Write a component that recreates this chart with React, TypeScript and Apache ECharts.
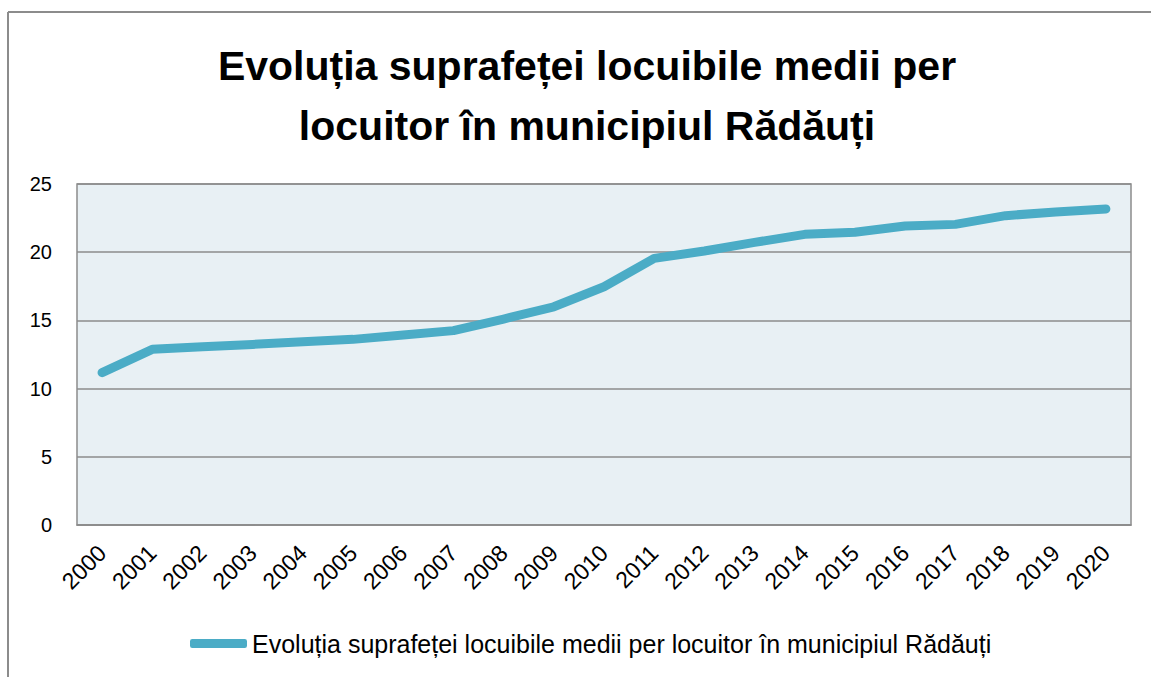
import React, { useEffect, useRef } from "react";
import * as echarts from "echarts";

const years = [
  "2000", "2001", "2002", "2003", "2004", "2005", "2006", "2007", "2008", "2009", "2010",
  "2011", "2012", "2013", "2014", "2015", "2016", "2017", "2018", "2019", "2020",
];
const values = [
  11.17, 12.88, 13.06, 13.24, 13.43, 13.61, 13.93, 14.25, 15.1, 16.0, 17.47,
  19.55, 20.09, 20.72, 21.31, 21.46, 21.92, 22.04, 22.68, 22.95, 23.17,
];
const seriesName = "Evoluția suprafeței locuibile medii per locuitor în municipiul Rădăuți";
const titleText = "Evoluția suprafeței locuibile medii per\nlocuitor în municipiul Rădăuți";

export default function App() {
  const ref = useRef<HTMLDivElement>(null);
  useEffect(() => {
    if (!ref.current) return;
    const chart = echarts.init(ref.current, null, { renderer: "svg" });
    const font = "'Liberation Sans', Arial, sans-serif";
    chart.setOption({
      animation: false,
      backgroundColor: "#ffffff",
      textStyle: { fontFamily: font },
      title: {
        text: titleText,
        left: 582,
        textAlign: "center",
        top: 31,
        textStyle: {
          fontFamily: font,
          fontSize: 41,
          fontWeight: "bold",
          color: "#000000",
          lineHeight: 60,
        },
      },
      grid: {
        left: 77,
        right: 20,
        top: 184,
        bottom: 152,
        show: true,
        backgroundColor: "#e8f0f4",
        borderColor: "#8c8c8c",
        borderWidth: 1.5,
      },
      legend: {
        bottom: 16,
        left: 185,
        icon: "roundRect",
        itemWidth: 57,
        itemHeight: 9,
        itemGap: 10,
        textStyle: { fontFamily: font, fontSize: 25, color: "#000000", padding: [0, 0, 0, 0] },
        data: [seriesName],
      },
      xAxis: {
        type: "category",
        data: years,
        boundaryGap: true,
        axisLine: { show: true, lineStyle: { color: "#8c8c8c", width: 1.5 } },
        axisTick: { show: false },
        axisLabel: {
          rotate: 45,
          interval: 0,
          fontSize: 23,
          color: "#000000",
          margin: 24,
          fontFamily: font,
        },
      },
      yAxis: {
        type: "value",
        min: 0,
        max: 25,
        interval: 5,
        axisLine: { show: false },
        axisTick: { show: false },
        splitLine: { show: true, lineStyle: { color: "#8c8c8c", width: 1.5 } },
        axisLabel: { fontSize: 20, color: "#000000", margin: 25, fontFamily: font },
      },
      graphic: [
        {
          type: "line",
          shape: { x1: 8, y1: 12, x2: 1151, y2: 12 },
          style: { stroke: "#8c8c8c", lineWidth: 2 },
        },
        {
          type: "line",
          shape: { x1: 8, y1: 12, x2: 8, y2: 677 },
          style: { stroke: "#8c8c8c", lineWidth: 2 },
        },
      ],
      series: [
        {
          name: seriesName,
          type: "line",
          data: values,
          showSymbol: false,
          symbol: "none",
          itemStyle: { color: "#4bacc6" },
          lineStyle: { color: "#4bacc6", width: 9, cap: "round", join: "round" },
        },
      ],
    });
    return () => chart.dispose();
  }, []);
  return (
    <div
      ref={ref}
      style={{ position: "absolute", left: 0, top: 0, width: 1151, height: 677 }}
    />
  );
}
